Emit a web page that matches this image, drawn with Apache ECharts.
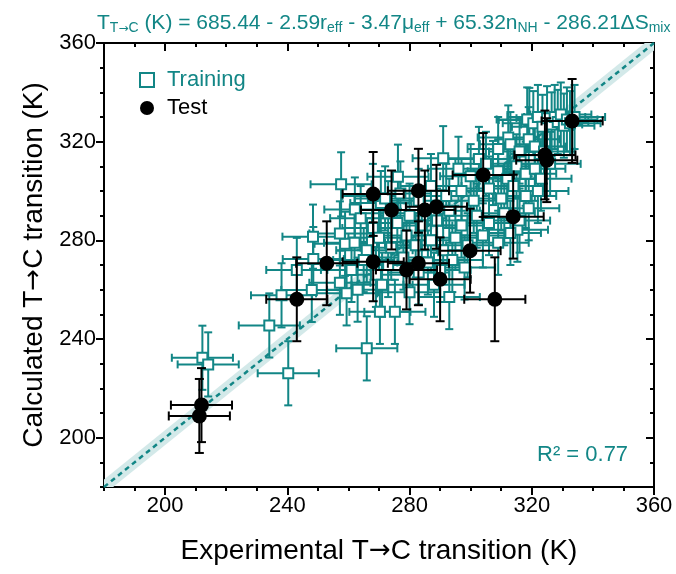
<!DOCTYPE html>
<html><head><meta charset="utf-8">
<script src="https://cdn.jsdelivr.net/npm/echarts@6/dist/echarts.min.js"></script>
<style>html,body{margin:0;padding:0;background:#fff}#c{width:676px;height:574px}</style>
</head><body><div id="c"></div>
<script>
// ---------------- data ----------------
const xTickLabels = [200, 240, 280, 320, 360];
const yTickLabels = [200, 240, 280, 320, 360];
const axisMin = 180, axisMax = 360;

const trainingExp = [212.2,214.1,240.3,234.1,238.1,243.1,248.5,248.0,257.2,259.4,266.0,258.9,257.2,248.4,257.6,262.1,276.2,291.0,302.7,312.3,319.2,270.6,315.3,307.3,270.3,275.2,267.7,
318.5,320.5,322,323.5,325,326.5,327.5,328.5,329.5,330.5,331.5,332.5,334,
309,313,316,319,321,324,
296,300,305,309,312,315,318,321,323,326,
268,272,277,283,287,292,297,301,306,310,314,318,322,
264,268,273,276,280,284,289,293,297,302,306,311,316,319,
262,266,270,274,279,282,287,291,295,299,304,309,313,
261,265,269,273,278,283,286,290,294,298,
263,271,280,288,293];
const trainingCalc = [232.4,229.7,226.1,245.5,257.7,268.0,272.4,259.9,262.8,258.5,236.2,278.6,282.8,281.5,302.7,292.5,305.8,313.3,313.0,321.7,328.8,295.1,284.3,307.3,251.0,251.0,279.3,
329,327.5,330,326,329.5,327,330,328,331,326.5,329,327.5,330,
317,319,316,321,318,316,
309,306,311,308,305,310,307,309,305,311,
298,297,299,296,302,298,300,296,301,297,302,298,300,
289,285,291,287,290,286,288,292,286,290,287,291,288,293,
279,276,281,277,282,278,280,276,281,278,282,279,283,
268,272,266,270,273,267,271,268,272,269,
260,262,259,262,257];
const trainingExpErr = 10;
const trainingCalcErr = 13;

const testExp  = [211.9,211.2,243.1,252.9,268.1,268.1,282.9,274.1,285.0,288.8,304.1,313.9,333.2,324.3,324.9,299.8,290.0,307.9,282.9,279.0];
const testCalc = [213.2,208.8,256.1,270.7,271.3,298.8,300.1,292.3,292.3,293.6,306.5,289.6,328.4,314.6,312.5,275.8,264.2,256.1,270.7,268.0];
const testCalcErr = [15,15,17,17,16,17,17,16,16,17,17,17,17,18,17,17,17,17,17,16];
const testExpErr = 10;

const bandHalfWidth = 3;
const r2Text = 'R\u00b2 = 0.77';

// ---------------- style ----------------
const TEAL = '#128686';
const FONT = '"Liberation Sans", Arial, sans-serif';
const ARROW_FONT = '"DejaVu Sans", sans-serif';

const trainingData = trainingExp.map((x, i) => [x, trainingCalc[i], trainingExpErr, trainingCalcErr]);
const testData = testExp.map((x, i) => [x, testCalc[i], testExpErr, testCalcErr[i]]);

function errorBars(color, lw, cap) {
  return function (params, api) {
    const x = api.value(0), y = api.value(1), xe = api.value(2), ye = api.value(3);
    const l = api.coord([x - xe, y]), r = api.coord([x + xe, y]);
    const t = api.coord([x, y + ye]), b = api.coord([x, y - ye]);
    const style = { stroke: color, lineWidth: lw, fill: null };
    const ln = (x1, y1, x2, y2) => ({ type: 'line', shape: { x1, y1, x2, y2 }, style });
    return { type: 'group', children: [
      ln(l[0], l[1], r[0], r[1]),
      ln(l[0], l[1] - cap, l[0], l[1] + cap),
      ln(r[0], r[1] - cap, r[0], r[1] + cap),
      ln(t[0], t[1], b[0], b[1]),
      ln(t[0] - cap, t[1], t[0] + cap, t[1]),
      ln(b[0] - cap, b[1], b[0] + cap, b[1])
    ]};
  };
}

const nameRich = {
  a: { fontSize: 28, color: '#000', fontFamily: FONT },
  b: { fontSize: 26, color: '#000', fontFamily: ARROW_FONT }
};

const tickLine = { color: '#000', width: 2 };
function makeAxes(pos, customVals, withLabels, name, nameGap) {
  const base = { type: 'value', min: axisMin, max: axisMax, interval: 10, splitLine: { show: false }, gridIndex: 0 };
  const inside = (pos === 'top' || pos === 'right');
  const major = Object.assign({}, base, {
    position: pos,
    axisLine: { show: true, onZero: false, lineStyle: { color: '#000', width: 2 } },
    axisTick: { show: true, inside, length: 8, lineStyle: tickLine, customValues: customVals },
    axisLabel: withLabels ? { show: true, customValues: customVals, fontSize: 22, color: '#000', fontFamily: FONT, margin: 8 } : { show: false }
  });
  if (name) {
    Object.assign(major, { name, nameLocation: 'middle', nameGap, nameTextStyle: { fontSize: 28, color: '#000', fontFamily: FONT, rich: nameRich } });
  }
  const minor = Object.assign({}, base, {
    position: pos,
    axisLine: { show: false, onZero: false },
    axisTick: { show: true, inside, length: 4, lineStyle: tickLine },
    axisLabel: { show: false }
  });
  return [major, minor];
}

const chart = echarts.init(document.getElementById('c'), null, { renderer: 'canvas' });
chart.setOption({
  animation: false,
  backgroundColor: '#fff',
  textStyle: { fontFamily: FONT },
  title: {
    left: 92, top: 6,
    text: '{m|T}{s|T}{sa|\u2192}{s|C}{m| (K) = 685.44 - 2.59r}{s|eff}{m| - 3.47\u03bc}{s|eff}{m| + 65.32n}{s|NH}{m| - 286.21\u0394S}{s|mix}',
    textStyle: {
      fontWeight: 'normal',
      rich: {
        m: { fontSize: 21, fontWeight: 'normal', color: TEAL, fontFamily: FONT, lineHeight: 24 },
        s: { fontSize: 14, fontWeight: 'normal', color: TEAL, fontFamily: FONT, lineHeight: 10, verticalAlign: 'bottom' },
        sa: { fontSize: 12, fontWeight: 'normal', color: TEAL, fontFamily: ARROW_FONT, lineHeight: 10, verticalAlign: 'bottom' }
      }
    }
  },
  grid: { left: 104, right: 22, top: 43, bottom: 87, containLabel: false },
  xAxis: [].concat(
    makeAxes('bottom', xTickLabels, true, '{a|Experimental T}{b|\u2192}{a|C transition (K)}', 50),
    makeAxes('top', xTickLabels, false)
  ),
  yAxis: [].concat(
    makeAxes('left', yTickLabels, true, '{a|Calculated T}{b|\u2192}{a|C transition (K)}', 54),
    makeAxes('right', yTickLabels, false)
  ),
  legend: {
    left: 134, top: 64, orient: 'vertical', itemWidth: 14, itemHeight: 14, itemGap: 6,
    textStyle: { fontSize: 22, fontFamily: FONT, padding: [0, 0, 0, 8] },
    data: [
      { name: 'Training', textStyle: { color: TEAL } },
      { name: 'Test', textStyle: { color: '#000' } }
    ]
  },
  graphic: [{
    type: 'text', left: 537, top: 444, z: 100,
    style: { text: r2Text, fontSize: 22, fill: TEAL, fontFamily: FONT }
  }],
  series: [
    {
      type: 'custom', name: 'band', xAxisIndex: 0, yAxisIndex: 0, clip: true, silent: true, z: 1,
      data: [[axisMin, axisMax]],
      renderItem: function (params, api) {
        const lo = api.value(0), hi = api.value(1), d = bandHalfWidth;
        const pts = [[lo, lo], [lo, lo + d], [hi - d, hi], [hi, hi], [hi, hi - d], [lo + d, lo]].map(p => api.coord(p));
        return { type: 'polygon', shape: { points: pts }, style: { fill: '#d3e9e9', stroke: null } };
      }
    },
    {
      type: 'line', name: 'fit', xAxisIndex: 0, yAxisIndex: 0, z: 2, silent: true,
      data: [[axisMin, axisMin], [axisMax, axisMax]], symbol: 'none',
      lineStyle: { color: TEAL, width: 2.5, type: [5, 4] }
    },
    {
      type: 'custom', name: 'trainErr', xAxisIndex: 0, yAxisIndex: 0, clip: true, z: 3,
      encode: { x: 0, y: 1 }, data: trainingData, renderItem: errorBars(TEAL, 2, 4)
    },
    {
      type: 'scatter', name: 'Training', xAxisIndex: 0, yAxisIndex: 0, z: 4,
      symbol: 'rect', symbolSize: 10,
      itemStyle: { color: '#fff', borderColor: TEAL, borderWidth: 2, opacity: 1 },
      data: trainingData.map(d => [d[0], d[1]])
    },
    {
      type: 'custom', name: 'testErr', xAxisIndex: 0, yAxisIndex: 0, clip: true, z: 5,
      encode: { x: 0, y: 1 }, data: testData, renderItem: errorBars('#000', 2, 4.5)
    },
    {
      type: 'scatter', name: 'Test', xAxisIndex: 0, yAxisIndex: 0, z: 6,
      symbol: 'circle', symbolSize: 15,
      itemStyle: { color: '#000', opacity: 1 },
      data: testData.map(d => [d[0], d[1]])
    }
  ]
});
</script>
</body></html>
